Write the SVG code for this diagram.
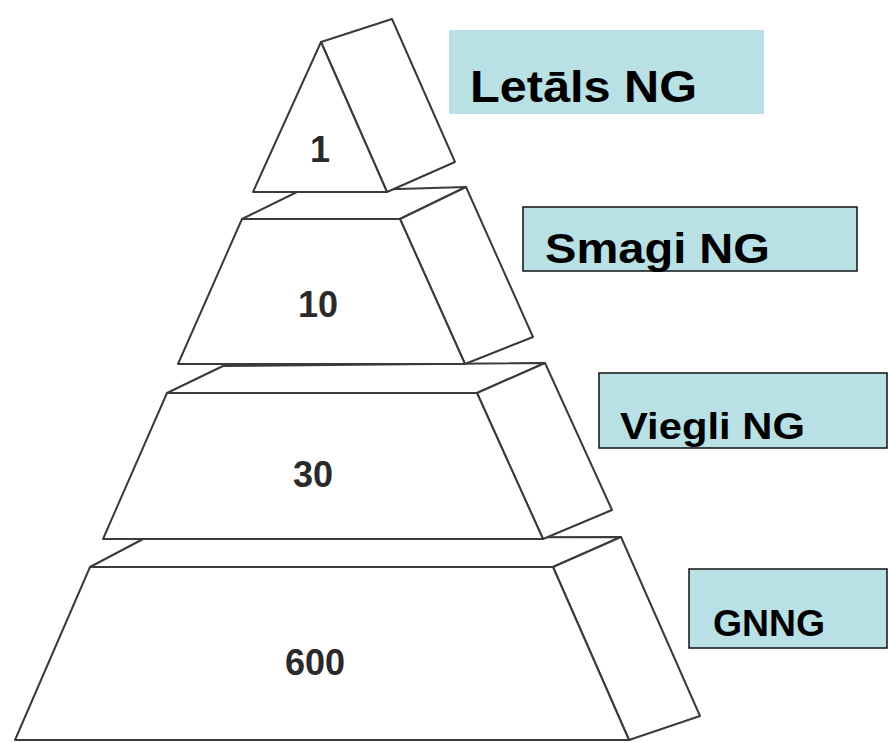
<svg xmlns="http://www.w3.org/2000/svg" width="888" height="743" viewBox="0 0 888 743">
<style>
.f{fill:#fff;stroke:#3a3a3a;stroke-width:2;stroke-linejoin:round}
.n{font-family:"Liberation Sans",Arial,sans-serif;font-weight:bold;font-size:36px;fill:#2a2a2a;text-anchor:middle}
.b{fill:#b9e0e4}
.bs{fill:#b9e0e4;stroke:#111;stroke-width:1.5}
.t{font-family:"Liberation Sans",Arial,sans-serif;font-weight:bold;fill:#000}
</style>
<rect width="888" height="743" fill="#fff"/>
<g id="tier4">
<polygon class="f" points="90,567 145,538 621,537 553,567"/>
<polygon class="f" points="553,567 621,537 700,716 629,740"/>
<polygon class="f" points="90,567 553,567 629,740 15,740"/>
<text class="n" x="315" y="675">600</text>
</g>
<g id="tier3">
<polygon class="f" points="167,393 223,366 545,363 477,393"/>
<polygon class="f" points="477,393 545,363 612,510 543,539"/>
<polygon class="f" points="167,393 477,393 543,539 103,539"/>
<text class="n" x="313" y="487">30</text>
</g>
<g id="tier2">
<polygon class="f" points="242,219 297,192 466,187 400,219"/>
<polygon class="f" points="400,219 466,187 533,337 465,364"/>
<polygon class="f" points="242,219 400,219 465,364 178,364"/>
<text class="n" x="318" y="317">10</text>
</g>
<g id="tier1">
<polygon class="f" points="321,42 392,19 455,162 387,192"/>
<polygon class="f" points="321,42 387,192 253,192"/>
<text class="n" x="320" y="162">1</text>
</g>
<g id="label-letals">
<rect class="b" x="449" y="30" width="315" height="84"/>
<text class="t" x="470" y="102" font-size="44" textLength="227" lengthAdjust="spacingAndGlyphs">Letāls NG</text>
</g>
<g id="label-smagi">
<rect class="bs" x="523" y="207" width="334" height="64"/>
<text class="t" x="545" y="263" font-size="43" textLength="225" lengthAdjust="spacingAndGlyphs">Smagi NG</text>
</g>
<g id="label-viegli">
<rect class="bs" x="599" y="373" width="288" height="75"/>
<text class="t" x="620" y="439" font-size="37" textLength="185" lengthAdjust="spacingAndGlyphs">Viegli NG</text>
</g>
<g id="label-gnng">
<rect class="bs" x="689" y="569" width="198" height="79"/>
<text class="t" x="713" y="636" font-size="36" textLength="112" lengthAdjust="spacingAndGlyphs">GNNG</text>
</g>
<g id="connectors"></g>
</svg>
